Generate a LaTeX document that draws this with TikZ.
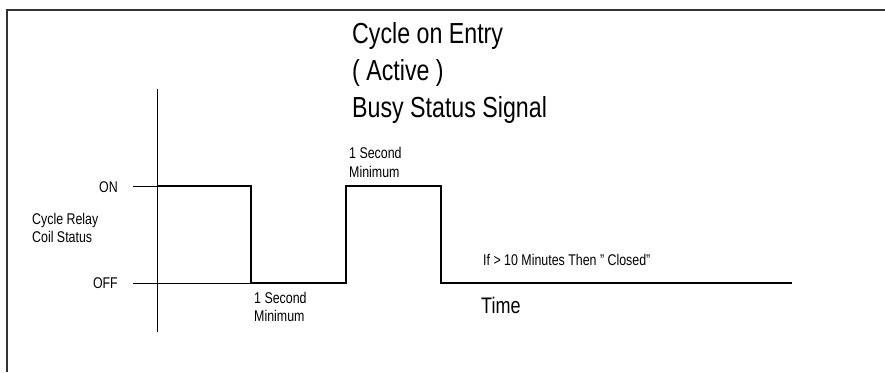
\documentclass[tikz,border=0pt]{standalone}
\usepackage{fontspec}
\setmainfont{Liberation Sans}[FakeStretch=0.8]
\begin{document}
\begin{tikzpicture}[x=1pt,y=-1pt,
  lbl/.style={inner sep=0pt,font=\fontsize{15.5}{17}\selectfont},
  ttl/.style={inner sep=0pt,font=\fontsize{29}{30}\selectfont},
  thin line/.style={line width=0.9pt,black},
  signal/.style={line width=1.8pt,black},
  frame/.style={line width=1.4pt,black!80}]
\useasboundingbox (0,0) rectangle (885,372);
% frame
\draw[frame] (7,372) -- (7,10) -- (885,10);
% title
\node[ttl,anchor=base west] (t1) at (352,43) {Cycle on Entry};
\node[ttl,anchor=base west] (t2) at (352,80) {( Active )};
\node[ttl,anchor=base west] (t3) at (352,117) {Busy Status Signal};
% axis and ticks
\coordinate (axtop) at (157,89);
\coordinate (axbot) at (157,332);
\draw[thin line] (axtop) -- (axbot);
\coordinate (ontick) at (133,186);
\coordinate (onaxis) at (157,186);
\coordinate (offtick) at (133,283);
\coordinate (offend) at (251,283);
\draw[thin line] (ontick) -- (onaxis);
\draw[thin line] (offtick) -- (offend);
% signal
\coordinate (p1) at (251,186);
\coordinate (p2) at (251,283);
\coordinate (p3) at (346,283);
\coordinate (p4) at (346,186);
\coordinate (p5) at (441,186);
\coordinate (p6) at (441,283);
\coordinate (p7) at (792,283);
\draw[signal,line join=miter] (onaxis) -- (p1) -- (p2) -- (p3) -- (p4) -- (p5) -- (p6) -- (p7);
% labels
\node[lbl,anchor=base east] (on) at (118,192) {ON};
\node[lbl,anchor=base east] (off) at (118,288) {OFF};
\node[lbl,anchor=base west] (cr1) at (32,224) {Cycle Relay};
\node[lbl,anchor=base west] (cr2) at (32,242) {Coil Status};
\node[lbl,anchor=base west] (s1a) at (254,303) {1 Second};
\node[lbl,anchor=base west] (s1b) at (254,321) {Minimum};
\node[lbl,anchor=base west] (s2a) at (349,158) {1 Second};
\node[lbl,anchor=base west] (s2b) at (349,177) {Minimum};
\node[lbl,anchor=base west] (cl) at (483,265) {If > 10 Minutes Then \symbol{34} Closed\symbol{34}};
\node[inner sep=0pt,font=\fontsize{22.5}{24}\selectfont,anchor=base west] (time) at (481,313) {Time};
\end{tikzpicture}
\end{document}
